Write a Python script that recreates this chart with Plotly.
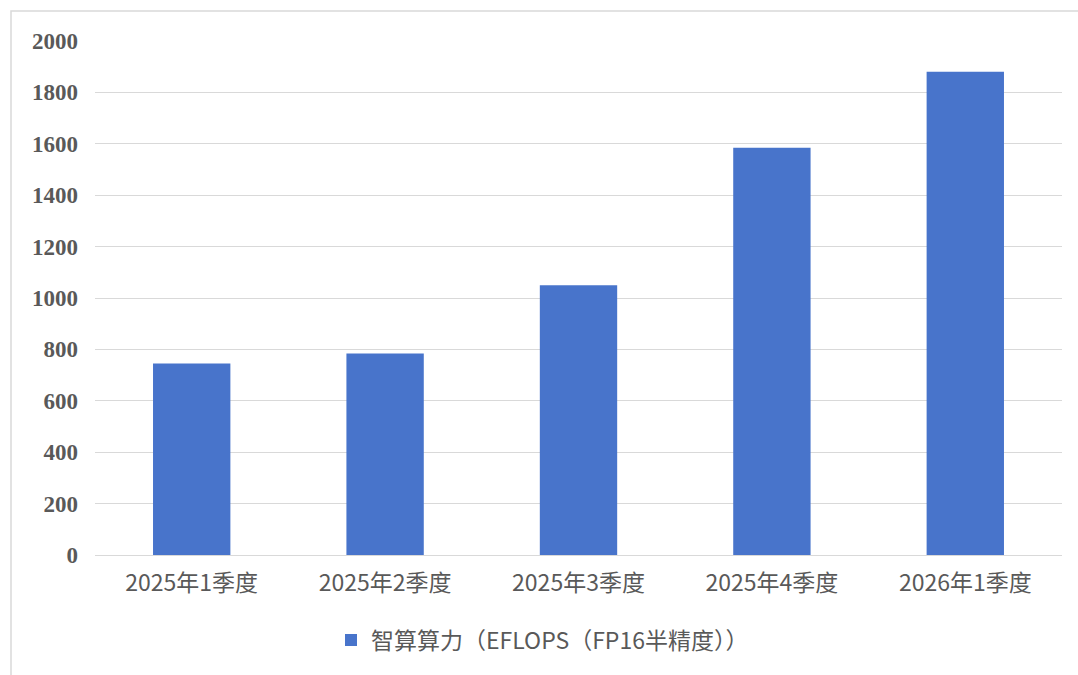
import plotly.graph_objects as go

categories = ["2025年1季度", "2025年2季度", "2025年3季度", "2025年4季度", "2026年1季度"]
values = [745, 784, 1050, 1585, 1880]
series_name = "智算算力（EFLOPS（FP16半精度））"
y_ticks = [0, 200, 400, 600, 800, 1000, 1200, 1400, 1600, 1800, 2000]

W, H = 1078, 675
ml, mr, mt, mb = 95, 16, 41, 120
pw, ph = W - ml - mr, H - mt - mb

def px_x(p):
    return (p - ml) / pw

def px_y(p):
    return (H - mb - p) / ph

fig = go.Figure()
fig.add_trace(go.Bar(
    x=categories, y=values, name=series_name,
    marker=dict(color="#4874CB", line=dict(width=0)),
    showlegend=True,
))

fig.update_layout(
    width=W, height=H,
    margin=dict(l=ml, r=mr, t=mt, b=mb, autoexpand=False),
    paper_bgcolor="white", plot_bgcolor="white",
    bargap=0.6,
    showlegend=True,
    legend=dict(
        orientation="h", x=px_x(331), xanchor="left", y=px_y(640), yanchor="middle",
        font=dict(family="Noto Sans CJK SC", size=23, color="#595959"),
        bgcolor="rgba(0,0,0,0)",
    ),
    xaxis=dict(
        showgrid=False, showline=False, zeroline=False, ticks="",
        tickfont=dict(family="Noto Sans CJK SC", size=23, color="#595959"),
        ticklabelstandoff=12,
    ),
    yaxis=dict(
        range=[0, 2000], tickvals=y_ticks, ticktext=[str(v) for v in y_ticks],
        showgrid=True, gridcolor="#d9d9d9", gridwidth=1.3,
        zeroline=True, zerolinecolor="#d9d9d9", zerolinewidth=1.3,
        showline=False, ticks="",
        tickfont=dict(family="Liberation Serif", size=23, color="#595959", weight="bold"),
        ticklabelstandoff=16,
    ),
    shapes=[dict(
        type="rect", xref="paper", yref="paper",
        x0=px_x(11), x1=px_x(1090), y0=px_y(690), y1=px_y(11),
        line=dict(color="#d9d9d9", width=1.5), fillcolor="rgba(0,0,0,0)", layer="below",
    )],
)

fig.write_html("out.html")
